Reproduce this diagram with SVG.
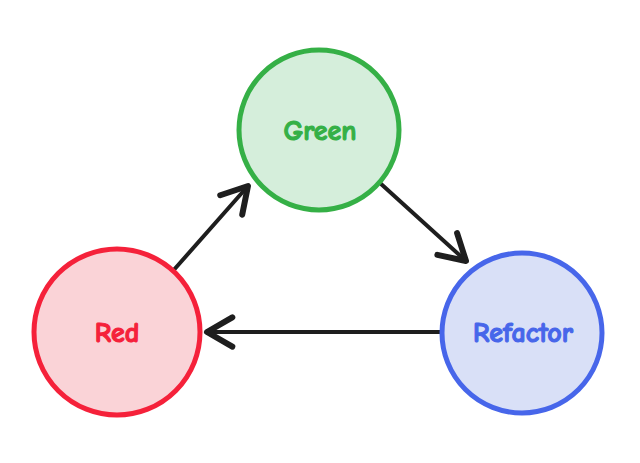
<svg xmlns="http://www.w3.org/2000/svg" width="640" height="463" viewBox="0 0 640 463">
<style>
.lbl{font-family:"Comic Neue","Liberation Sans",sans-serif;font-size:28px;font-weight:bold;text-anchor:middle;dominant-baseline:central;stroke-width:1.1;stroke-linejoin:round}
.edge{fill:none;stroke:#1e1e1e;stroke-width:4;stroke-linecap:round;stroke-linejoin:round}
</style>
<defs>
<marker id="ah" markerUnits="userSpaceOnUse" markerWidth="40" markerHeight="40" viewBox="-25 -15 30 30" refX="0" refY="0" orient="auto" overflow="visible">
<path d="M-19,-11 L0,0 L-19,11" fill="none" stroke="#1e1e1e" stroke-width="4.5" stroke-linecap="round" stroke-linejoin="round"/>
</marker>
</defs>
<rect width="640" height="463" fill="#ffffff"/>
<g id="connectors">
<path class="edge" d="M172,272 L248,186" marker-end="url(#ah)"/>
<path class="edge" d="M380,183 L466,261" marker-end="url(#ah)"/>
<path class="edge" d="M442,332 L207,332" marker-end="url(#ah)"/>
</g>
<g id="green">
<circle cx="319" cy="130" r="80" fill="#d5eedb" stroke="#35b046" stroke-width="5"/>
<text class="lbl" x="320" y="131" fill="#35b046" stroke="#35b046">Green</text>
</g>
<g id="red">
<circle cx="117" cy="332" r="83" fill="#fad3d7" stroke="#f5213a" stroke-width="5"/>
<text class="lbl" x="117" y="333" fill="#f5213a" stroke="#f5213a">Red</text>
</g>
<g id="refactor">
<circle cx="522" cy="333" r="80" fill="#d9e0f7" stroke="#4766ea" stroke-width="5"/>
<text class="lbl" x="523" y="333" fill="#4766ea" stroke="#4766ea">Refactor</text>
</g>
</svg>
